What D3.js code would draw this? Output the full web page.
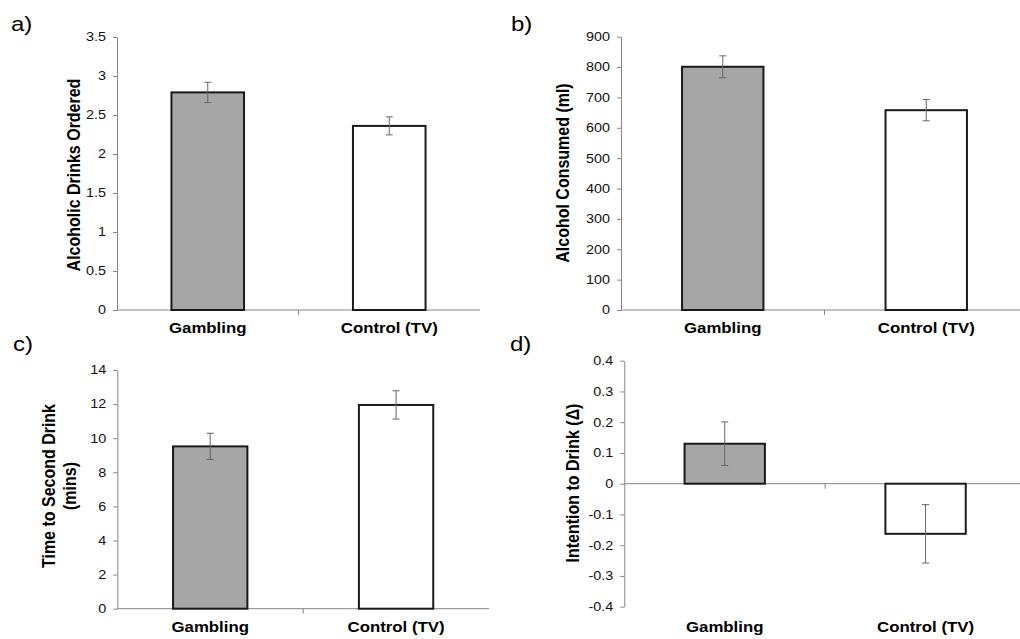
<!DOCTYPE html>
<html>
<head>
<meta charset="utf-8">
<script src="https://d3js.org/d3.v7.min.js"></script>
<style>
  body { margin: 0; background: #fff; }
  text { font-family: "Liberation Sans", Arial, sans-serif; }
</style>
</head>
<body>
<svg id="chart" width="1020" height="639"></svg>
<script>
// data
var categories = ["Gambling", "Control (TV)"];
var drinksOrdered = [2.79, 2.36];
var drinksOrderedSE = [0.13, 0.115];
var alcoholMl = [801, 658];
var alcoholMlSE = [36, 35];
var timeToSecond = [9.52, 11.95];
var timeToSecondSE = [0.77, 0.83];
var intention = [0.13, -0.163];
var intentionSE = [0.071, 0.095];

var ticksA = [0, 0.5, 1, 1.5, 2, 2.5, 3, 3.5];
var ticksB = [0, 100, 200, 300, 400, 500, 600, 700, 800, 900];
var ticksC = [0, 2, 4, 6, 8, 10, 12, 14];
var ticksD = [-0.4, -0.3, -0.2, -0.1, 0, 0.1, 0.2, 0.3, 0.4];

var barFill = ["#a6a6a6", "#ffffff"];
var SX = 1.2; // picture is stretched a bit sideways

var svg = d3.select("#chart");
svg.append("rect").attr("width", 1020).attr("height", 639).attr("fill", "#fff");

function panel(opt) {
  var g = svg.append("g");
  var x = d3.scaleBand().domain(categories)
    .range([opt.x0, opt.x1]).paddingInner(0.6).paddingOuter(0.3);
  var y = d3.scaleLinear().domain(opt.domain).range([opt.yb, opt.yt]);

  // y axis
  var yAxis = g.append("g")
    .attr("transform", "translate(" + opt.x0 + ",0)")
    .call(d3.axisLeft(y).tickValues(opt.ticks).tickSize(4).tickSizeOuter(0)
      .tickFormat(function(d) { return String(d); }));
  yAxis.select(".domain").attr("stroke", "#868686");
  yAxis.selectAll(".tick line").attr("stroke", "#868686");
  yAxis.selectAll(".tick text")
    .attr("x", -11 / SX)
    .attr("transform", "scale(" + SX + ",1)")
    .attr("fill", "#111")
    .style("font-size", "12px");

  // x axis line at zero + middle tick
  var y0 = y(0);
  g.append("line")
    .attr("x1", opt.x0).attr("x2", opt.x1)
    .attr("y1", y0).attr("y2", y0)
    .attr("stroke", "#868686");
  var mid = (x(categories[0]) + x.bandwidth() + x(categories[1])) / 2;
  g.append("line")
    .attr("x1", mid).attr("x2", mid)
    .attr("y1", y0).attr("y2", y0 + 5)
    .attr("stroke", "#868686");

  // bars
  g.selectAll("rect.bar").data(opt.values).enter()
    .append("rect")
    .attr("class", "bar")
    .attr("x", function(d, i) { return x(categories[i]); })
    .attr("width", x.bandwidth())
    .attr("y", function(d) { return Math.min(y(d), y0); })
    .attr("height", function(d) { return Math.abs(y(d) - y0); })
    .attr("fill", function(d, i) { return barFill[i]; })
    .attr("stroke", "#1a1a1a")
    .attr("stroke-width", 2);

  // error bars
  var eb = g.selectAll("g.err").data(opt.values).enter().append("g");
  eb.append("line")
    .attr("x1", function(d, i) { return x(categories[i]) + x.bandwidth() / 2; })
    .attr("x2", function(d, i) { return x(categories[i]) + x.bandwidth() / 2; })
    .attr("y1", function(d, i) { return y(d + opt.se[i]); })
    .attr("y2", function(d, i) { return y(d - opt.se[i]); })
    .attr("stroke", "#666");
  [1, -1].forEach(function(s) {
    eb.append("line")
      .attr("x1", function(d, i) { return x(categories[i]) + x.bandwidth() / 2 - 3.5; })
      .attr("x2", function(d, i) { return x(categories[i]) + x.bandwidth() / 2 + 3.5; })
      .attr("y1", function(d, i) { return y(d + s * opt.se[i]); })
      .attr("y2", function(d, i) { return y(d + s * opt.se[i]); })
      .attr("stroke", "#666");
  });

  // category labels
  categories.forEach(function(c) {
    g.append("text")
      .attr("transform", "translate(" + (x(c) + x.bandwidth() / 2) + "," + opt.catY + ") scale(" + SX + ",1)")
      .attr("text-anchor", "middle")
      .style("font-size", "14px")
      .style("font-weight", "bold")
      .text(c);
  });

  // y title (one or more lines)
  opt.title.forEach(function(t, k) {
    g.append("text")
      .attr("transform", "translate(" + opt.titleX[k] + "," + opt.titleY + ") scale(" + SX + ",1) rotate(-90)")
      .attr("text-anchor", "middle")
      .style("font-size", "16px")
      .style("font-weight", "bold")
      .text(t);
  });

  // panel letter
  g.append("text")
    .attr("transform", "translate(" + opt.labX + "," + opt.labY + ") scale(" + SX + ",1)")
    .style("font-size", "20px")
    .text(opt.label);
}

panel({ label: "a)", labX: 11, labY: 31, x0: 117, x1: 480, yb: 310, yt: 37,
  domain: [0, 3.5], ticks: ticksA, values: drinksOrdered, se: drinksOrderedSE,
  catY: 333, title: ["Alcoholic Drinks Ordered"], titleX: [80], titleY: 175 });

panel({ label: "b)", labX: 511, labY: 31, x0: 621, x1: 1028, yb: 310, yt: 36.7,
  domain: [0, 900], ticks: ticksB, values: alcoholMl, se: alcoholMlSE,
  catY: 333, title: ["Alcohol Consumed (ml)"], titleX: [569], titleY: 173 });

panel({ label: "c)", labX: 13, labY: 351, x0: 117.3, x1: 489, yb: 608.7, yt: 370,
  domain: [0, 14], ticks: ticksC, values: timeToSecond, se: timeToSecondSE,
  catY: 632, title: ["Time to Second Drink", "(mins)"], titleX: [55, 76], titleY: 486 });

panel({ label: "d)", labX: 510, labY: 351, x0: 624.3, x1: 1026, yb: 606.7, yt: 360.7,
  domain: [-0.4, 0.4], ticks: ticksD, values: intention, se: intentionSE,
  catY: 632, title: ["Intention to Drink (\u0394)"], titleX: [579], titleY: 483 });
</script>
</body>
</html>
